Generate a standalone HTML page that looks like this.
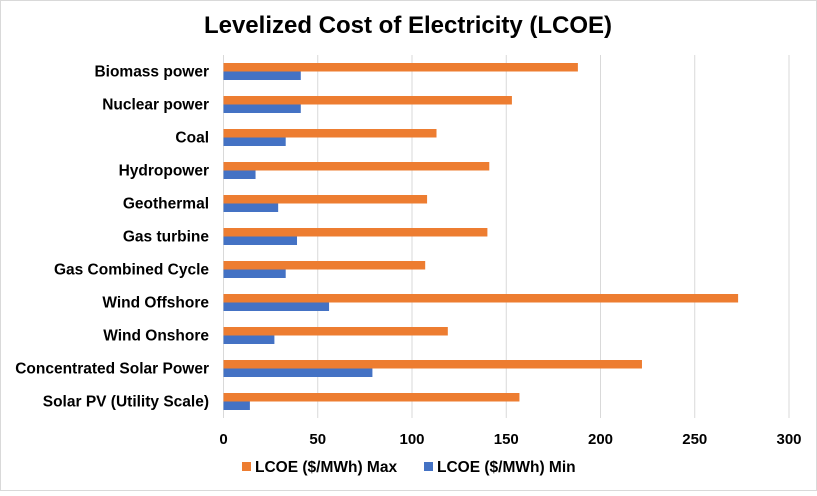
<!DOCTYPE html>
<html><head><meta charset="utf-8"><style>
html,body{margin:0;padding:0;background:#fff;}
body{width:817px;height:491px;overflow:hidden;font-family:"Liberation Sans",Arial,sans-serif;}
</style></head><body>
<svg width="817" height="491" xmlns="http://www.w3.org/2000/svg">
<rect x="0.5" y="0.5" width="816" height="490" fill="#fff" stroke="#d9d9d9"/>
<text x="408" y="33" text-anchor="middle" font-size="24" font-weight="bold" fill="#000">Levelized Cost of Electricity (LCOE)</text>
<g id="grid"></g><g id="bars"></g><g id="labels"></g>
<g>
<rect x="242" y="462" width="9" height="9" fill="#ED7D31"/>
<text x="255" y="472" font-size="15.5" font-weight="bold">LCOE ($/MWh) Max</text>
<rect x="424" y="462" width="9" height="9" fill="#4472C4"/>
<text x="437" y="472" font-size="15.5" font-weight="bold">LCOE ($/MWh) Min</text>
</g>
</svg>
<script>
const categories=["Biomass power","Nuclear power","Coal","Hydropower","Geothermal","Gas turbine","Gas Combined Cycle","Wind Offshore","Wind Onshore","Concentrated Solar Power","Solar PV (Utility Scale)"];
const maxValues=[188,153,113,141,108,140,107,273,119,222,157];
const minValues=[41,41,33,17,29,39,33,56,27,79,14];
const ticks=[0,50,100,150,200,250,300];
(function(){
const NS="http://www.w3.org/2000/svg";
const x0=223.5,x1=789,plotTop=55,plotBottom=418;
const xs=v=>x0+(v/300)*(x1-x0);
const band=(plotBottom-plotTop)/categories.length;
const yc=i=>plotTop+band*(i+0.5);
function mk(t,a,p){const e=document.createElementNS(NS,t);for(const k in a)e.setAttribute(k,a[k]);p.appendChild(e);return e;}
const grid=document.getElementById('grid'),bars=document.getElementById('bars'),labels=document.getElementById('labels');
ticks.forEach(t=>{
 const l=mk('line',{x1:xs(t),x2:xs(t),y1:plotTop,y2:plotBottom,stroke:'#d9d9d9','stroke-width':1},grid);
 
 
 const tx=mk('text',{x:xs(t),y:444,'text-anchor':'middle','font-size':15,'font-weight':'bold'},labels);
 tx.textContent=t;
 
 
});
categories.forEach((c,i)=>{
 const y=yc(i);
 const b1=mk('rect',{x:x0,y:y-8.5,width:xs(maxValues[i])-x0,height:8.5,fill:'#ED7D31'},bars);
 
 
 const b2=mk('rect',{x:x0,y:y,width:xs(minValues[i])-x0,height:8.5,fill:'#4472C4'},bars);
 
 
 const tx=mk('text',{x:209,y:y+5,'text-anchor':'end','font-size':15.5,'font-weight':'bold'},labels);
 tx.textContent=c;
 
 
});
})();
</script>
</body></html>
